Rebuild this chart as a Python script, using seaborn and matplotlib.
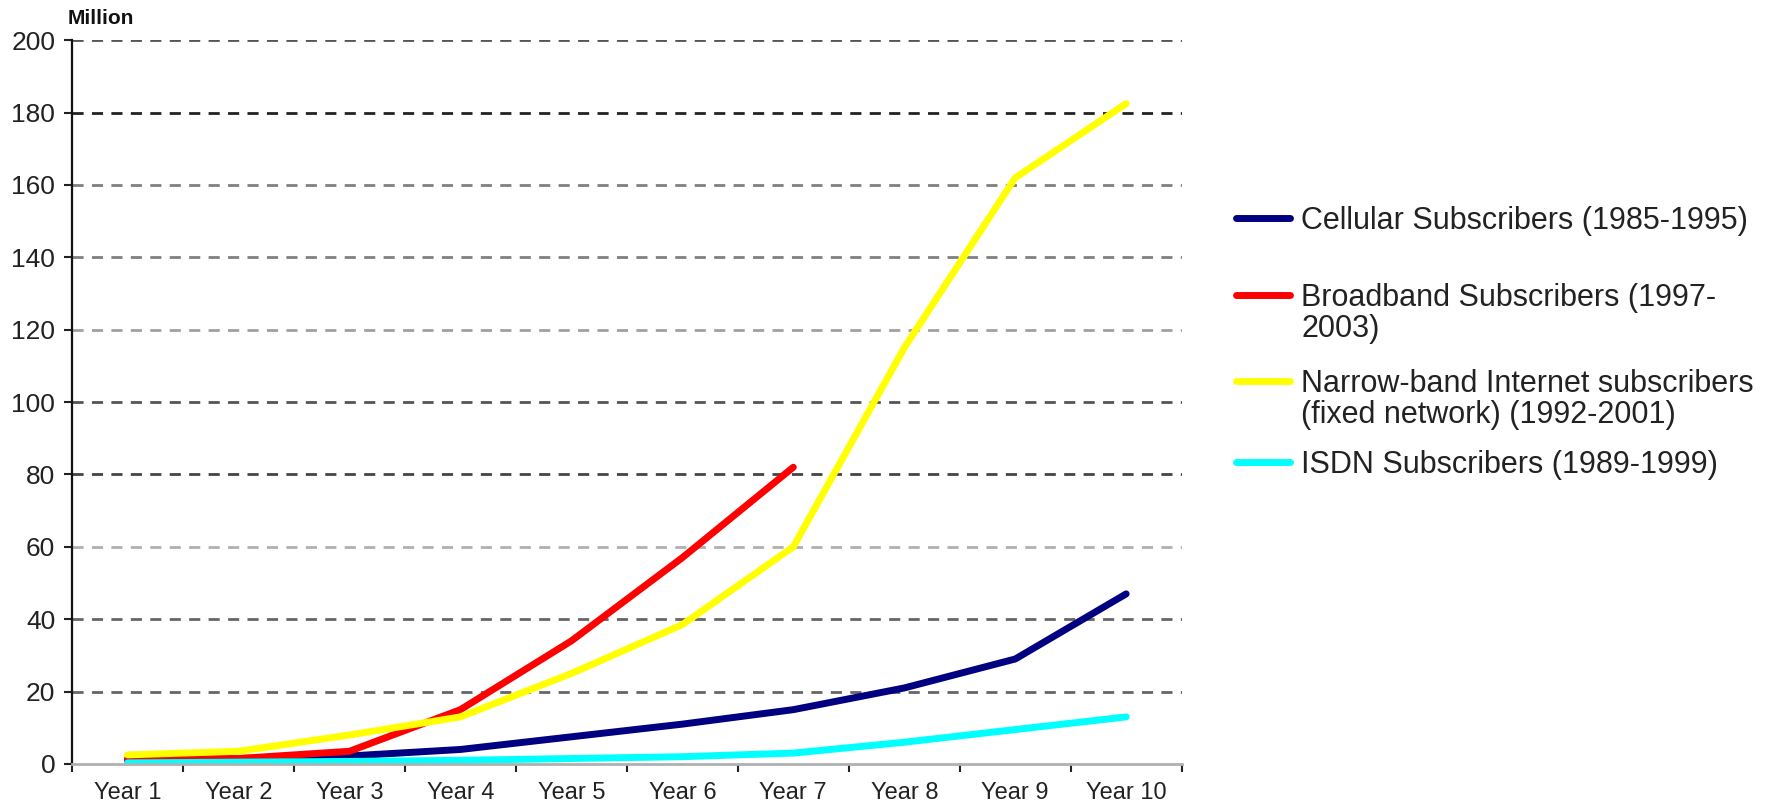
import matplotlib
matplotlib.use("Agg")
import matplotlib.pyplot as plt
from matplotlib.lines import Line2D
import numpy as np
import pandas as pd
import seaborn as sns

years = ["Year 1", "Year 2", "Year 3", "Year 4", "Year 5",
         "Year 6", "Year 7", "Year 8", "Year 9", "Year 10"]

cellular = [1.0, 1.5, 2.2, 4.0, 7.5, 11.0, 15.0, 21.0, 29.0, 47.0]
broadband = [1.5, 1.5, 3.5, 15.0, 34.0, 57.0, 82.0]
narrowband = [2.5, 3.5, 8.0, 13.0, 25.0, 38.5, 60.0, 115.0, 162.0, 182.5]
isdn = [0.3, 0.5, 0.7, 1.0, 1.5, 2.0, 3.0, 6.0, 9.5, 13.0]

series_names = [
    "Cellular Subscribers (1985-1995)",
    "Broadband Subscribers (1997-\n2003)",
    "Narrow-band Internet subscribers\n(fixed network) (1992-2001)",
    "ISDN Subscribers (1989-1999)",
]
series_values = [cellular, broadband, narrowband, isdn]
colors = ["#000080", "#ff0000", "#ffff00", "#00ffff"]

y_ticks = [0, 20, 40, 60, 80, 100, 120, 140, 160, 180, 200]
grid_colors = {20: "#666666", 40: "#666666", 60: "#b0b0b0", 80: "#444444",
               100: "#555555", 120: "#a0a0a0", 140: "#808080", 160: "#808080",
               180: "#222222", 200: "#555555"}

rows = []
for name, vals in zip(series_names, series_values):
    for i, v in enumerate(vals):
        rows.append({"pos": i, "year": years[i], "value": v, "series": name})
df = pd.DataFrame(rows)

sns.set_theme(style="white")
plt.rcParams["font.family"] = ["Liberation Sans", "DejaVu Sans"]

fig = plt.figure(figsize=(17.74, 8.05), dpi=100)
ax = fig.add_axes([0.0406, 0.051, 0.6255, 0.899])

# dashed horizontal grid
for y in y_ticks[1:]:
    ax.axhline(y, color=grid_colors[y], lw=2.0, ls=(0, (4, 3)), zorder=0)

sns.lineplot(data=df, x="pos", y="value", hue="series",
             hue_order=series_names, palette=colors, lw=5.0,
             ax=ax, legend=False, sort=False, estimator=None)

ax.set_xlim(-0.5, 9.5)
ax.set_ylim(0, 200)
ax.set_yticks(y_ticks)
ax.set_yticklabels([str(t) for t in y_ticks], fontsize=19, color="#222222")
ax.set_xticks(range(len(years)))
ax.set_xticklabels(years, fontsize=17, color="#222222")
ax.set_xticks(np.arange(-0.5, 10.0, 1.0), minor=True)
ax.tick_params(axis="x", which="major", length=0, pad=13)
ax.tick_params(axis="x", which="minor", length=6, width=1.5, color="#222222",
               direction="out", bottom=True)
ax.tick_params(axis="y", which="major", length=6, width=1.5, color="#222222",
               direction="out", left=True, pad=6)
ax.set_xlabel("")
ax.set_ylabel("")

for side in ["top", "right"]:
    ax.spines[side].set_visible(False)
ax.spines["left"].set_color("#111111")
ax.spines["left"].set_linewidth(1.6)
ax.spines["bottom"].set_color("#b0b0b0")
ax.spines["bottom"].set_linewidth(2.0)

fig.text(0.038, 0.977, "Million", fontsize=15, fontweight="bold",
         ha="left", va="center", color="#111111")

# legend: handle aligned with the first line of each label
legend_rows = [0.729, 0.634, 0.527, 0.4266]
for name, color, yc in zip(series_names, colors, legend_rows):
    fig.add_artist(Line2D([0.697, 0.727], [yc, yc], color=color, lw=5.0,
                          transform=fig.transFigure, solid_capstyle="round"))
    fig.text(0.7334, yc + 0.0150, name, fontsize=22, color="#222222",
             ha="left", va="top", linespacing=1.05)

fig.savefig("out.png", dpi=100, facecolor="white")
